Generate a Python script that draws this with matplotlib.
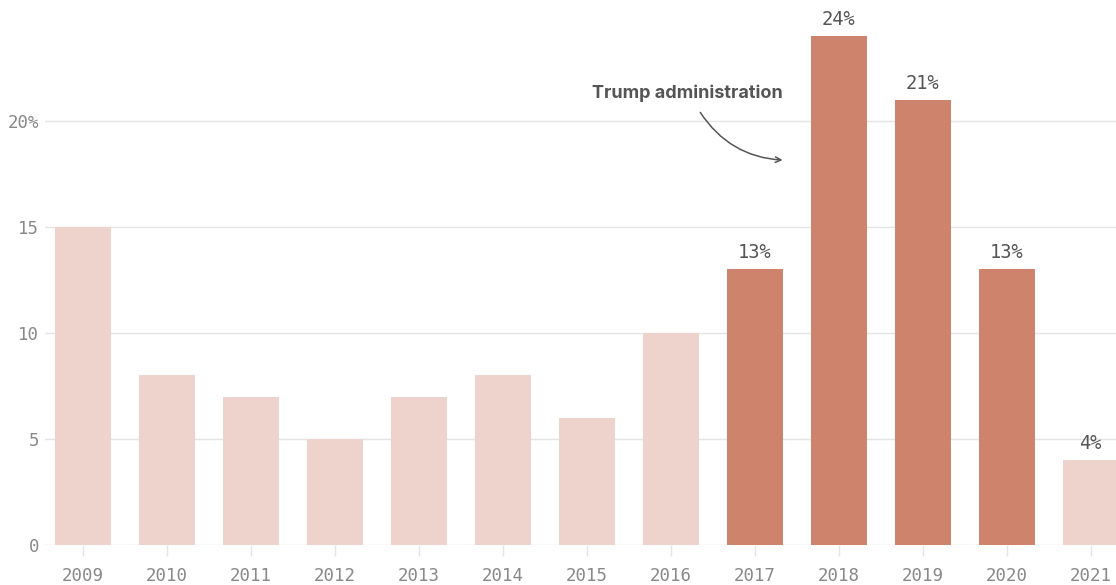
#!/usr/bin/env python3
# Bar chart: share by year, Trump administration years highlighted

import matplotlib
matplotlib.use('Agg')
import matplotlib.pyplot as plt

years = ['2009', '2010', '2011', '2012', '2013', '2014', '2015',
         '2016', '2017', '2018', '2019', '2020', '2021']
values = [15, 8, 7, 5, 7, 8, 6, 10, 13, 24, 21, 13, 4]
highlight = ['2017', '2018', '2019', '2020']
labelled = ['2017', '2018', '2019', '2020', '2021']
yticks = [0, 5, 10, 15, 20]
ytick_labels = ['0', '5', '10', '15', '20%']

LIGHT = '#edd3cc'
DARK = '#cd836c'
MONO = 'DejaVu Sans Mono'

fig = plt.figure(figsize=(11.16, 5.85), dpi=100)
ax = fig.add_axes([0.0403, 0.0684, 0.9597, 0.9316])

x = list(range(len(years)))
colors = [DARK if y in highlight else LIGHT for y in years]
ax.bar(x, values, width=0.667, color=colors, zorder=2)

for xi, y, v in zip(x, years, values):
    if y in labelled:
        ax.annotate('{}%'.format(v), (xi, v), xytext=(0, 5),
                    textcoords='offset points', ha='center', va='bottom',
                    fontsize=13.5, family=MONO, color='#555555')

ax.set_xlim(-0.452, 12.3)
ax.set_ylim(0, 25.7)
ax.set_yticks(yticks)
ax.set_yticklabels(ytick_labels)
ax.set_xticks(x)
ax.set_xticklabels(years)
ax.grid(axis='y', color='#e4e4e4', linewidth=1, zorder=0)
for s in ax.spines.values():
    s.set_visible(False)
ax.tick_params(axis='y', length=0, pad=4, labelsize=12.5, labelcolor='#888888')
ax.tick_params(axis='x', length=8, width=1, color='#e4e4e4', pad=8,
               labelsize=12.5, labelcolor='#888888')
for lab in ax.get_xticklabels() + ax.get_yticklabels():
    lab.set_family(MONO)

ax.text(8.33, 21.3, 'Trump administration', ha='right', va='center',
        fontsize=13, fontweight='bold', family='Inter', color='#555555')
ax.annotate('', xy=(8.33, 18.15), xytext=(7.35, 20.4),
            arrowprops=dict(arrowstyle='->', color='#555555', lw=1.1,
                            connectionstyle='arc3,rad=0.25',
                            shrinkA=0, shrinkB=0))

fig.savefig('out.png', dpi=100)
